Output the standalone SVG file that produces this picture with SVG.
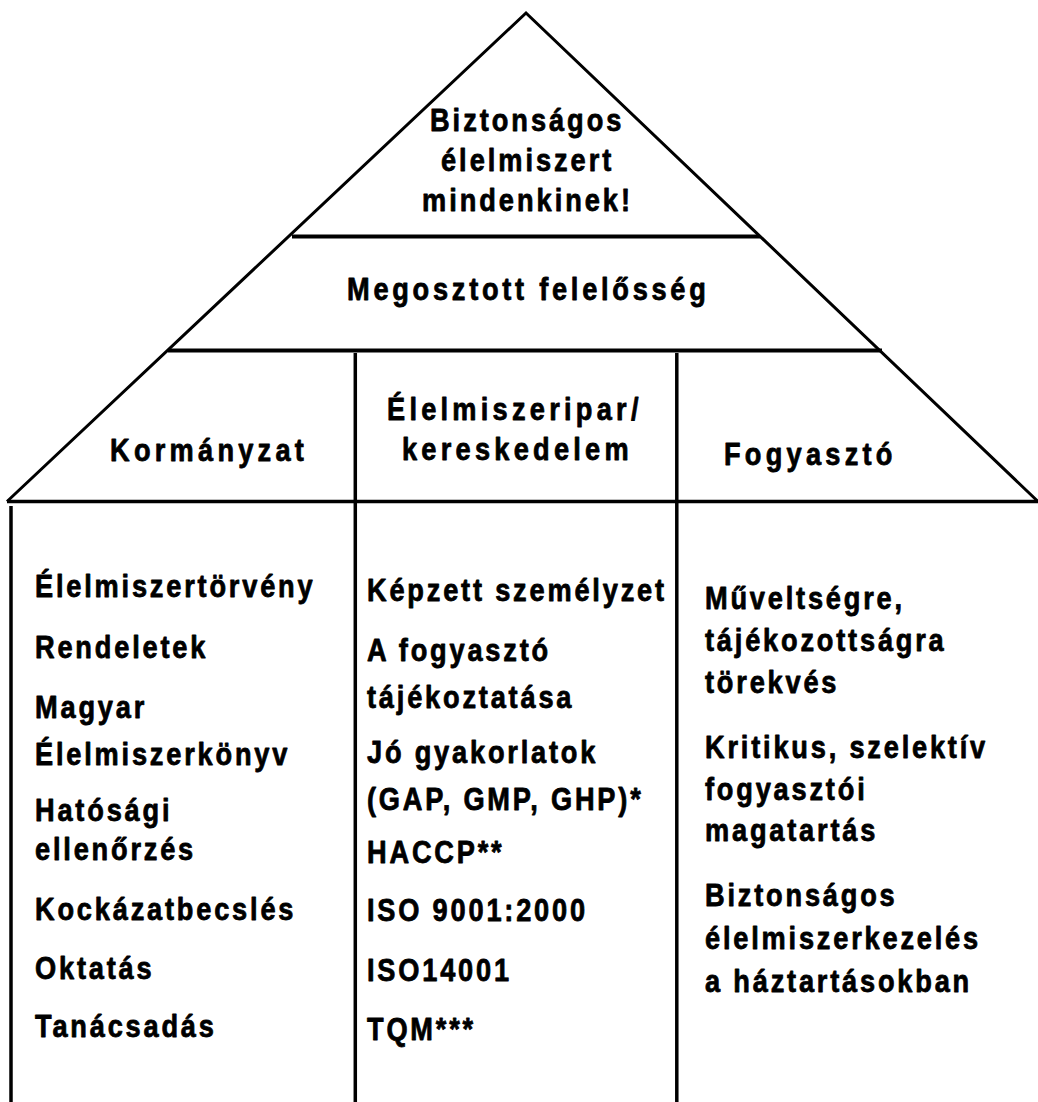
<svg xmlns="http://www.w3.org/2000/svg" width="1038" height="1102" viewBox="0 0 1038 1102">
<style>
text{font-family:"Liberation Sans",Arial,sans-serif;font-weight:bold;font-size:32px;fill:#000;stroke:#000;stroke-width:0.8px;stroke-linejoin:round}
.h{letter-spacing:5px}
.b{letter-spacing:3.3px}
.t{letter-spacing:3.5px}
.m{letter-spacing:4.4px}
.ln{stroke:#000;fill:none;stroke-linecap:butt}
</style>
<rect width="1038" height="1102" fill="#fff"/>
<g id="connectors">
<polyline class="ln" stroke-width="3" stroke-linejoin="miter" points="7,501.5 526,13 1038,501.5"/>
<line class="ln" stroke-width="4" x1="292" y1="236.5" x2="760" y2="236.5"/>
<line class="ln" stroke-width="4" x1="168" y1="350.5" x2="882" y2="350.5"/>
<line class="ln" stroke-width="3.5" x1="7" y1="501.5" x2="1038" y2="501.5"/>
<line class="ln" stroke-width="3.5" x1="355.3" y1="353" x2="355.3" y2="1102"/>
<line class="ln" stroke-width="3.5" x1="676.8" y1="353" x2="676.8" y2="1102"/>
<line class="ln" stroke-width="3.5" x1="11" y1="506" x2="11" y2="1102"/>
</g>
<g id="apex">
<text class="t" transform="translate(430,131) scale(0.85,1)">Biztonságos</text>
<text class="t" transform="translate(441,171) scale(0.85,1)">élelmiszert</text>
<text class="t" transform="translate(422,211) scale(0.85,1)">mindenkinek!</text>
</g>
<g id="shared">
<text class="m" transform="translate(347,299.5) scale(0.85,1)">Megosztott felelősség</text>
</g>
<g id="kormanyzat">
<text class="h" transform="translate(110,461) scale(0.85,1)">Kormányzat</text>
<g transform="translate(35,0) scale(0.85,1)">
<text class="b" x="0" y="597">Élelmiszertörvény</text>
<text class="b" x="0" y="658.5">Rendeletek</text>
<text class="b" x="0" y="718">Magyar</text>
<text class="b" x="0" y="765">Élelmiszerkönyv</text>
<text class="b" x="0" y="821.5">Hatósági</text>
<text class="b" x="0" y="860.5">ellenőrzés</text>
<text class="b" x="0" y="920.5">Kockázatbecslés</text>
<text class="b" x="0" y="979">Oktatás</text>
<text class="b" x="0" y="1037.5">Tanácsadás</text>
</g>
</g>
<g id="elelmiszeripar">
<text class="h" transform="translate(387,420) scale(0.85,1)">Élelmiszeripar/</text>
<text class="h" transform="translate(402,460) scale(0.85,1)">kereskedelem</text>
<g transform="translate(367,0) scale(0.85,1)">
<text class="b" x="0" y="601.5">Képzett személyzet</text>
<text class="b" x="0" y="661.5">A fogyasztó</text>
<text class="b" x="0" y="708.3">tájékoztatása</text>
<text class="b" x="0" y="763.3">Jó gyakorlatok</text>
<text class="b" x="0" y="810.5">(GAP, GMP, GHP)*</text>
<text class="b" x="0" y="863">HACCP**</text>
<text class="b" x="0" y="921.5">ISO 9001:2000</text>
<text class="b" x="0" y="981.5">ISO14001</text>
<text class="b" x="0" y="1040">TQM***</text>
</g>
</g>
<g id="fogyaszto">
<text class="h" transform="translate(724,464.5) scale(0.85,1)">Fogyasztó</text>
<g transform="translate(705,0) scale(0.85,1)">
<text class="b" x="0" y="609">Műveltségre,</text>
<text class="b" x="0" y="651.5">tájékozottságra</text>
<text class="b" x="0" y="693">törekvés</text>
<text class="b" x="0" y="758">Kritikus, szelektív</text>
<text class="b" x="0" y="800">fogyasztói</text>
<text class="b" x="0" y="841.5">magatartás</text>
<text class="b" x="0" y="906.5">Biztonságos</text>
<text class="b" x="0" y="949.5">élelmiszerkezelés</text>
<text class="b" x="0" y="992.5">a háztartásokban</text>
</g>
</g>
</svg>
